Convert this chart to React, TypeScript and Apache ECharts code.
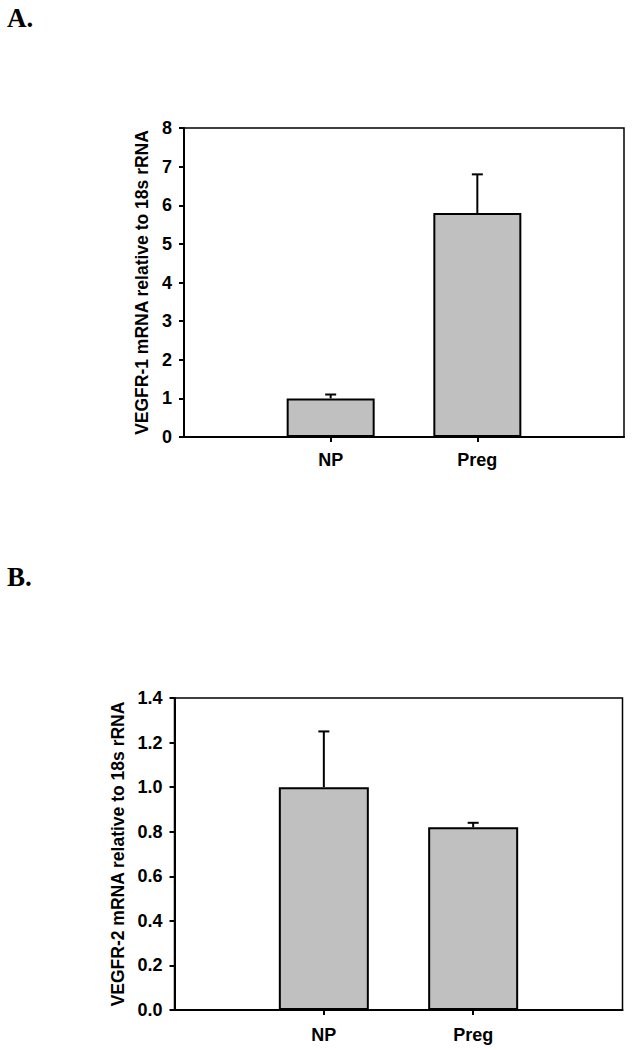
import React, { useEffect, useRef } from "react";
import * as echarts from "echarts";

const categories = ["NP", "Preg"];
const vegfr1Means = [1.0, 5.8];
const vegfr1Errors = [0.1, 1.0];
const vegfr2Means = [1.0, 0.82];
const vegfr2Errors = [0.25, 0.02];
const yTicksA = { min: 0, max: 8, interval: 1 };
const yTicksB = { min: 0, max: 1.4, interval: 0.2 };

const FONT = "'Liberation Sans', Arial, sans-serif";
const axisCats = ["", ...categories, ""];

function padded(values: number[]) {
  return ["-", ...values, "-"];
}

function errData(means: number[], errs: number[]) {
  return means.map((m, i) => [i + 1, m, errs[i]]);
}

function errorRender(params: any, api: any) {
  const idx = api.value(0);
  const m = api.value(1);
  const e = api.value(2);
  const p0 = api.coord([idx, m]);
  const p1 = api.coord([idx, m + e]);
  const style = { stroke: "#000", lineWidth: 2 };
  return {
    type: "group",
    children: [
      { type: "line", shape: { x1: p0[0], y1: p0[1], x2: p1[0], y2: p1[1] }, style },
      { type: "line", shape: { x1: p1[0] - 5.5, y1: p1[1], x2: p1[0] + 5.5, y2: p1[1] }, style },
    ],
  };
}

function xAxisFor(gridIndex: number, margin: number) {
  return {
    type: "category",
    gridIndex,
    data: axisCats,
    boundaryGap: false,
    axisLine: { lineStyle: { color: "#000", width: 2 } },
    axisTick: {
      length: 5,
      interval: (i: number, v: string) => v !== "",
      lineStyle: { color: "#000", width: 2 },
    },
    axisLabel: {
      interval: 0,
      margin,
      color: "#000",
      fontFamily: FONT,
      fontWeight: "bold",
      fontSize: 18,
    },
    splitLine: { show: false },
  };
}

function yAxisFor(gridIndex: number, ticks: any, name: string, nameGap: number, dec: number) {
  return {
    type: "value",
    gridIndex,
    min: ticks.min,
    max: ticks.max,
    interval: ticks.interval,
    name,
    nameLocation: "middle",
    nameGap,
    nameTextStyle: { color: "#000", fontFamily: FONT, fontWeight: "bold", fontSize: 17.5 },
    axisLine: { show: true, lineStyle: { color: "#000", width: 2 } },
    axisTick: { show: true, length: 5, lineStyle: { color: "#000", width: 2 } },
    axisLabel: {
      margin: 12,
      color: "#000",
      fontFamily: FONT,
      fontWeight: "bold",
      fontSize: 18,
      formatter: (v: number) => v.toFixed(dec),
    },
    splitLine: { show: false },
  };
}

export default function App() {
  const ref = useRef<HTMLDivElement>(null);
  useEffect(() => {
    if (!ref.current) return;
    const chart = echarts.init(ref.current, null, { renderer: "svg" });
    const option: any = {
      animation: false,
      backgroundColor: "#fff",
      graphic: [
        {
          type: "text",
          left: 7,
          top: 4,
          style: { text: "A.", font: "bold 27px 'Liberation Serif', 'Times New Roman', serif", fill: "#000" },
        },
        {
          type: "text",
          left: 7,
          top: 563,
          style: { text: "B.", font: "bold 27px 'Liberation Serif', 'Times New Roman', serif", fill: "#000" },
        },
      ],
      grid: [
        { left: 184, right: 639 - 624, top: 128, height: 309, show: true, borderColor: "#000", borderWidth: 1.5, containLabel: false },
        { left: 174.5, right: 639 - 622.5, top: 698, height: 312, show: true, borderColor: "#000", borderWidth: 1.5, containLabel: false },
      ],
      xAxis: [xAxisFor(0, 14), xAxisFor(1, 16)],
      yAxis: [
        yAxisFor(0, yTicksA, "VEGFR-1 mRNA relative to 18s rRNA", 33, 0),
        yAxisFor(1, yTicksB, "VEGFR-2 mRNA relative to 18s rRNA", 45, 1),
      ],
      series: [
        {
          type: "bar",
          xAxisIndex: 0,
          yAxisIndex: 0,
          data: padded(vegfr1Means),
          barWidth: 88,
          itemStyle: { color: "#c0c0c0", borderColor: "#000", borderWidth: 2 },
          z: 2,
        },
        {
          type: "custom",
          xAxisIndex: 0,
          yAxisIndex: 0,
          data: errData(vegfr1Means, vegfr1Errors),
          encode: { x: 0, y: 1 },
          renderItem: errorRender,
          z: 3,
        },
        {
          type: "bar",
          xAxisIndex: 1,
          yAxisIndex: 1,
          data: padded(vegfr2Means),
          barWidth: 90,
          itemStyle: { color: "#c0c0c0", borderColor: "#000", borderWidth: 2 },
          z: 2,
        },
        {
          type: "custom",
          xAxisIndex: 1,
          yAxisIndex: 1,
          data: errData(vegfr2Means, vegfr2Errors),
          encode: { x: 0, y: 1 },
          renderItem: errorRender,
          z: 3,
        },
      ],
    };
    chart.setOption(option);
    return () => chart.dispose();
  }, []);
  return (
    <div
      ref={ref}
      style={{ position: "absolute", left: 0, top: 0, width: 639, height: 1050, background: "#fff" }}
    />
  );
}
